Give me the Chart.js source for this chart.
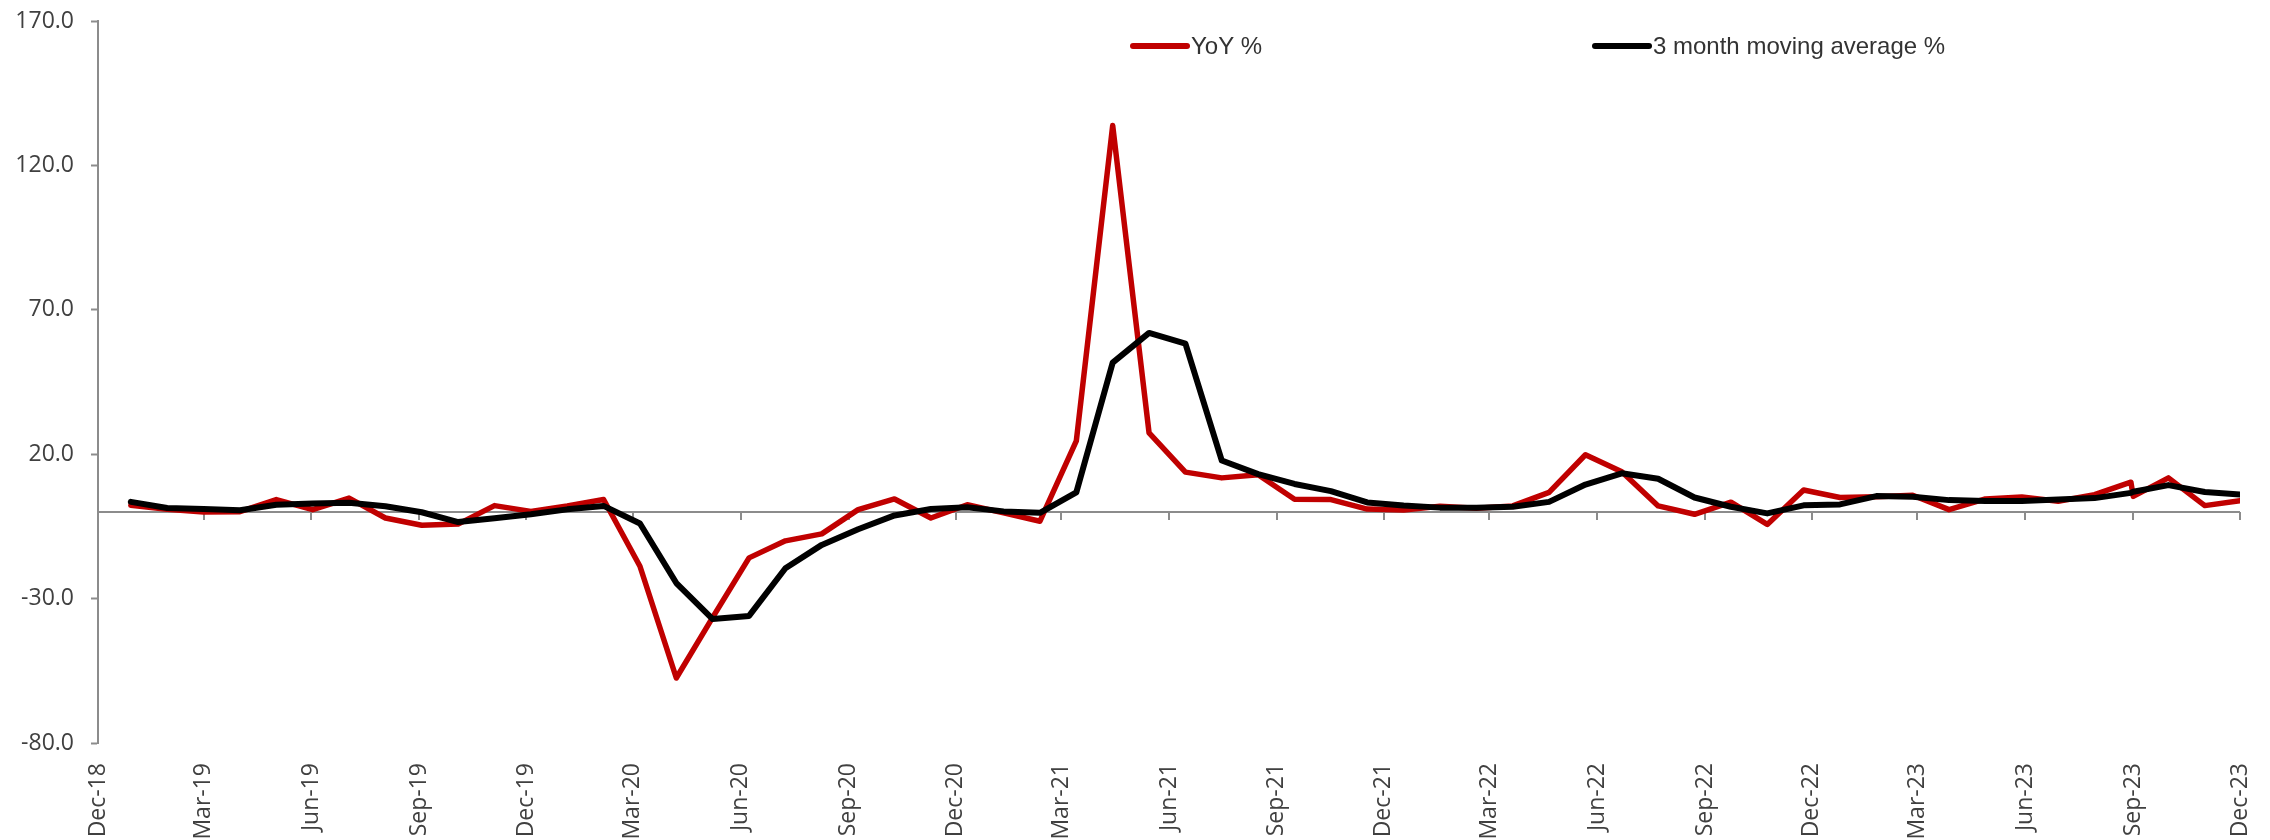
<!DOCTYPE html>
<html>
<head>
<meta charset="utf-8">
<script src="https://cdn.jsdelivr.net/npm/chart.js@4.4.1/dist/chart.umd.min.js"></script>
<style>
  html, body { margin: 0; padding: 0; background: #ffffff; }
  #wrap { width: 2270px; height: 840px; position: relative; }
</style>
</head>
<body>
<div id="wrap"><canvas id="chart"></canvas></div>
<script>
// Quarterly axis labels and the dates they mark
const tickLabels = [
  'Dec-18','Mar-19','Jun-19','Sep-19','Dec-19','Mar-20','Jun-20','Sep-20','Dec-20','Mar-21','Jun-21',
  'Sep-21','Dec-21','Mar-22','Jun-22','Sep-22','Dec-22','Mar-23','Jun-23','Sep-23','Dec-23'
];
const tickDates = [
  '2018-12-01','2019-03-01','2019-06-01','2019-09-01','2019-12-01','2020-03-01','2020-06-01','2020-09-01',
  '2020-12-01','2021-03-01','2021-06-01','2021-09-01','2021-12-01','2022-03-01','2022-06-01','2022-09-01',
  '2022-12-01','2023-03-01','2023-06-01','2023-09-01','2023-12-01'
];

// Date stamp of each monthly observation (Jan-19 .. Dec-23)
const obsDates = [
  '2018-12-29','2019-01-29','2019-03-01','2019-04-01','2019-05-02','2019-06-02','2019-07-03','2019-08-03',
  '2019-09-03','2019-10-04','2019-11-04','2019-12-05','2020-01-05','2020-02-05','2020-03-07','2020-04-07',
  '2020-05-08','2020-06-08','2020-07-09','2020-08-09','2020-09-09','2020-10-10','2020-11-10','2020-12-11',
  '2021-01-11','2021-02-11','2021-03-14','2021-04-14','2021-05-15','2021-06-15','2021-07-16','2021-08-16',
  '2021-09-16','2021-10-17','2021-11-17','2021-12-18','2022-01-18','2022-02-18','2022-03-21','2022-04-21',
  '2022-05-22','2022-06-22','2022-07-23','2022-08-23','2022-09-23','2022-10-24','2022-11-24','2022-12-25',
  '2023-01-25','2023-02-25','2023-03-28','2023-04-28','2023-05-29','2023-06-29','2023-07-30','2023-08-30',
  '2023-09-01','2023-10-01','2023-11-01','2023-12-01'
];

// Year-on-year change, %
const yoyPct = [
  2.3, 0.9, 0.0, 0.1, 4.3, 0.8, 4.8, -2.1, -4.6, -4.2, 2.2, 0.2,
  2.1, 4.3, -18.8, -57.5, -36.5, -15.9, -10.0, -7.6, 0.8, 4.5, -2.1, 2.5,
  -0.3, -3.2, 24.6, 133.8, 27.4, 13.8, 11.8, 12.9, 4.4, 4.3, 1.0, 0.7,
  2.0, 1.3, 2.1, 6.8, 19.8, 13.9, 2.1, -0.8, 3.4, -4.3, 7.6, 5.0,
  5.3, 5.8, 0.8, 4.5, 5.2, 3.7, 6.0, 10.3, 5.4, 11.8, 2.2, 3.9
];

// 3 month moving average, %
const movingAvgPct = [
  3.5, 1.4, 1.0, 0.6, 2.5, 2.9, 3.2, 2.0, -0.1, -3.5, -2.2, -0.8,
  0.9, 2.1, -4.0, -24.6, -37.1, -36.0, -19.5, -11.4, -6.0, -1.2, 1.0, 1.6,
  0.2, -0.3, 6.8, 51.7, 62.0, 58.3, 17.8, 13.1, 9.7, 7.2, 3.3, 2.2,
  1.5, 1.5, 1.8, 3.5, 9.5, 13.4, 11.5, 5.0, 1.8, -0.5, 2.3, 2.6,
  5.5, 5.3, 4.1, 3.8, 3.8, 4.3, 4.8, 6.6, 7.0, 9.3, 6.9, 6.0
];

const yTicks = [-80, -30, 20, 70, 120, 170];
const seriesNames = ['YoY %', '3 month moving average %'];

const AXIS_GREY = '#8c8c8c';
const TEXT_GREY = '#404040';
const TICK_FONT = { family: '"Open Sans", Lato, sans-serif', size: 23 };

// Day number (UTC) of an ISO date string
const dayNum = (iso) => Date.parse(iso + 'T00:00:00Z') / 86400000;

const toPoints = (values) => values.map((v, i) => ({ x: dayNum(obsDates[i]), y: v }));

// Horizontal line at zero with quarterly tick marks hanging below it
const zeroAxis = {
  id: 'zeroAxis',
  beforeDatasetsDraw(chart, args, opts) {
    const { ctx, chartArea, scales: { x, y } } = chart;
    const y0 = y.getPixelForValue(0);
    ctx.save();
    ctx.strokeStyle = opts.color;
    ctx.lineWidth = opts.width;
    ctx.beginPath();
    ctx.moveTo(chartArea.left, y0);
    ctx.lineTo(chartArea.right, y0);
    ctx.stroke();
    ctx.beginPath();
    x.ticks.forEach((t, i) => {
      if (i === 0) return;
      const px = Math.round(x.getPixelForValue(t.value));
      ctx.moveTo(px, y0);
      ctx.lineTo(px, y0 + opts.tickLength);
    });
    ctx.stroke();
    ctx.restore();
  }
};

// Legend drawn inside the plot, one entry per dataset
const inlineLegend = {
  id: 'inlineLegend',
  afterDraw(chart, args, opts) {
    const { ctx } = chart;
    ctx.save();
    ctx.font = opts.font;
    ctx.textBaseline = 'middle';
    ctx.textAlign = 'left';
    chart.data.datasets.forEach((ds, i) => {
      const x0 = opts.starts[i];
      ctx.strokeStyle = ds.borderColor;
      ctx.lineWidth = opts.lineWidth;
      ctx.lineCap = 'round';
      ctx.beginPath();
      ctx.moveTo(x0, opts.y);
      ctx.lineTo(x0 + opts.lineLength, opts.y);
      ctx.stroke();
      ctx.fillStyle = opts.color;
      ctx.fillText(ds.label, x0 + opts.lineLength + opts.gap, opts.y + 1);
    });
    ctx.restore();
  }
};

new Chart(document.getElementById('chart'), {
  type: 'line',
  data: {
    datasets: [
      {
        label: seriesNames[0],
        data: toPoints(yoyPct),
        borderColor: '#C00000',
        backgroundColor: '#C00000',
        borderWidth: 5.5,
        order: 2
      },
      {
        label: seriesNames[1],
        data: toPoints(movingAvgPct),
        borderColor: '#000000',
        backgroundColor: '#000000',
        borderWidth: 6,
        order: 1
      }
    ]
  },
  options: {
    responsive: true,
    maintainAspectRatio: false,
    animation: false,
    devicePixelRatio: 1,
    layout: { padding: { top: 21, right: 30, left: 0, bottom: 0 } },
    elements: {
      point: { radius: 0, hoverRadius: 0 },
      line: { tension: 0, borderJoinStyle: 'round', borderCapStyle: 'round', fill: false }
    },
    plugins: {
      legend: { display: false },
      tooltip: { enabled: false },
      zeroAxis: { color: AXIS_GREY, width: 2, tickLength: 8 },
      inlineLegend: {
        y: 46,
        starts: [1133, 1595],
        lineLength: 54,
        lineWidth: 6,
        gap: 4,
        font: '24px "Liberation Sans", Arial, sans-serif',
        color: '#333333'
      }
    },
    scales: {
      x: {
        type: 'linear',
        min: dayNum(tickDates[0]),
        max: dayNum(tickDates[tickDates.length - 1]),
        afterBuildTicks: (scale) => { scale.ticks = tickDates.map(d => ({ value: dayNum(d) })); },
        grid: { display: false, drawTicks: false },
        border: { display: false },
        ticks: {
          autoSkip: false,
          minRotation: 90,
          maxRotation: 90,
          padding: 20,
          color: TEXT_GREY,
          font: TICK_FONT,
          callback: (v, i) => tickLabels[i]
        },
        afterFit: (scale) => {
          scale.height = 97;
          scale.paddingLeft = 0;
          scale.paddingRight = 0;
        }
      },
      y: {
        min: -80,
        max: 170,
        afterBuildTicks: (scale) => { scale.ticks = yTicks.map(v => ({ value: v })); },
        grid: {
          display: true,
          drawOnChartArea: false,
          drawTicks: true,
          tickLength: 7,
          tickColor: AXIS_GREY,
          tickWidth: 2
        },
        border: { display: true, color: AXIS_GREY, width: 2 },
        ticks: {
          padding: 17,
          color: TEXT_GREY,
          font: TICK_FONT,
          callback: (v) => Number(v).toFixed(1)
        },
        afterFit: (scale) => {
          scale.width = 98;
          scale.paddingTop = 0;
          scale.paddingBottom = 0;
        }
      }
    }
  },
  plugins: [zeroAxis, inlineLegend]
});
</script>
</body>
</html>
